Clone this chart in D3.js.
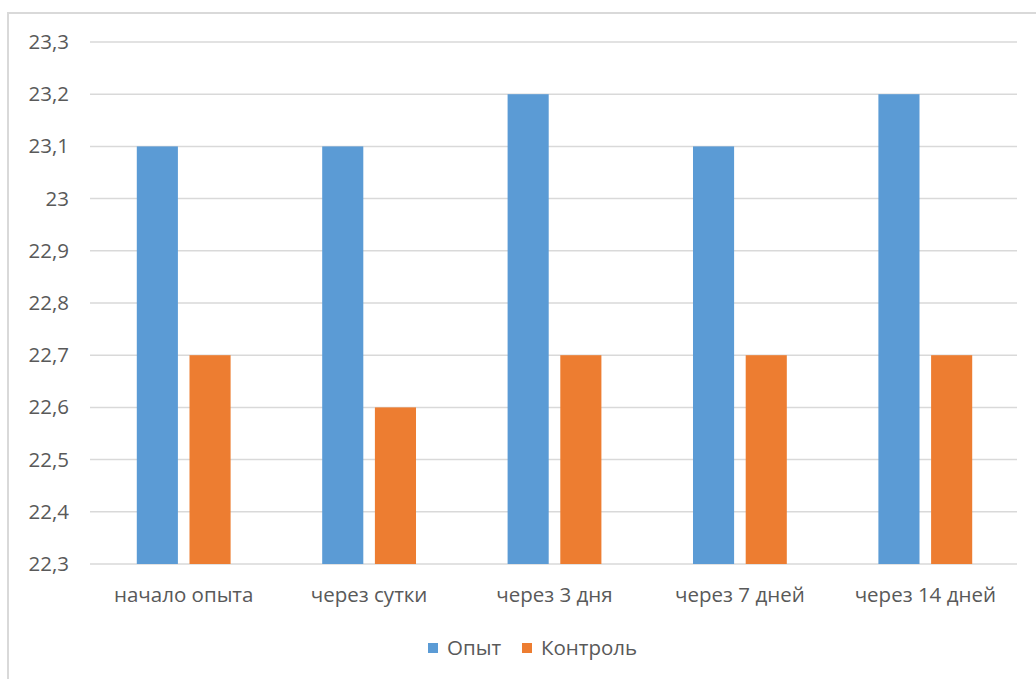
<!DOCTYPE html>
<html>
<head>
<meta charset="utf-8">
<script src="https://cdn.jsdelivr.net/npm/d3@7"></script>
<style>
  html, body { margin: 0; padding: 0; background: #fff; }
  svg { display: block; }
  text { font-family: "Open Sans", "Noto Sans", sans-serif; fill: #595959; }
</style>
</head>
<body>
<svg id="chart" width="1036" height="679"></svg>
<script>
// Measurement periods and the two groups
const categories = ["начало опыта", "через сутки", "через 3 дня", "через 7 дней", "через 14 дней"];
const seriesNames = ["Опыт", "Контроль"];
const opyt = [23.1, 23.1, 23.2, 23.1, 23.2];
const kontrol = [22.7, 22.6, 22.7, 22.7, 22.7];
const yTicks = [22.3, 22.4, 22.5, 22.6, 22.7, 22.8, 22.9, 23.0, 23.1, 23.2, 23.3];
const colors = ["#5B9BD5", "#ED7D31"];

const fontSize = 20.5;
const svg = d3.select("#chart");

// outer chart frame
svg.append("rect")
  .attr("x", 8).attr("y", 13)
  .attr("width", 1040).attr("height", 700)
  .attr("fill", "none")
  .attr("stroke", "#d9d9d9")
  .attr("stroke-width", 2);

const plot = { left: 90, right: 1017, top: 42, bottom: 564 };

const x = d3.scaleBand()
  .domain(categories)
  .range([plot.left + 1, plot.right + 1])
  .paddingInner(0)
  .paddingOuter(0);

const y = d3.scaleLinear()
  .domain([22.3, 23.3])
  .range([plot.bottom, plot.top]);

const x1 = d3.scaleBand()
  .domain(seriesNames)
  .range([x.bandwidth() * 0.247, x.bandwidth() * 0.753])
  .paddingInner(0.22);

const fmt = v => d3.format(".1f")(v).replace(".", ",").replace(/,0$/, "");

// horizontal gridlines
svg.append("g")
  .selectAll("line")
  .data(yTicks)
  .join("line")
  .attr("x1", plot.left).attr("x2", plot.right)
  .attr("y1", d => y(d)).attr("y2", d => y(d))
  .attr("stroke", "#d9d9d9")
  .attr("stroke-width", 1.5);

// y axis labels
const yAxis = d3.axisLeft(y).tickValues(yTicks).tickFormat(fmt).tickSize(0).tickPadding(0);
const gy = svg.append("g")
  .attr("transform", `translate(${plot.left - 21},0)`)
  .call(yAxis);
gy.select(".domain").remove();
gy.selectAll("text")
  .attr("font-size", fontSize)
  .attr("font-family", "'Open Sans', sans-serif")
  .attr("fill", "#595959");

// bars
const rows = categories.map((c, i) => ({ cat: c, vals: [opyt[i], kontrol[i]] }));
const groups = svg.append("g")
  .selectAll("g")
  .data(rows)
  .join("g")
  .attr("transform", d => `translate(${x(d.cat)},0)`);

groups.selectAll("rect")
  .data(d => d.vals.map((v, j) => ({ name: seriesNames[j], v, j })))
  .join("rect")
  .attr("x", d => x1(d.name))
  .attr("width", x1.bandwidth())
  .attr("y", d => y(d.v))
  .attr("height", d => y(22.3) - y(d.v))
  .attr("fill", d => colors[d.j]);

// category axis labels
const xAxis = d3.axisBottom(x).tickSize(0).tickPadding(0);
const gx = svg.append("g")
  .attr("transform", `translate(0,${plot.bottom + 23})`)
  .call(xAxis);
gx.select(".domain").remove();
gx.selectAll("text")
  .attr("font-size", fontSize)
  .attr("font-family", "'Open Sans', sans-serif")
  .attr("fill", "#595959")
  .attr("dy", "0.71em");

// legend
const legend = svg.append("g");
const legendItems = [
  { name: seriesNames[0], color: colors[0], x: 428 },
  { name: seriesNames[1], color: colors[1], x: 522 }
];
legendItems.forEach(it => {
  legend.append("rect")
    .attr("x", it.x).attr("y", 643)
    .attr("width", 10).attr("height", 10)
    .attr("fill", it.color);
  legend.append("text")
    .attr("x", it.x + 19).attr("y", 648)
    .attr("dy", "0.35em")
    .attr("font-size", fontSize)
    .attr("fill", "#595959")
    .text(it.name);
});
</script>
</body>
</html>
